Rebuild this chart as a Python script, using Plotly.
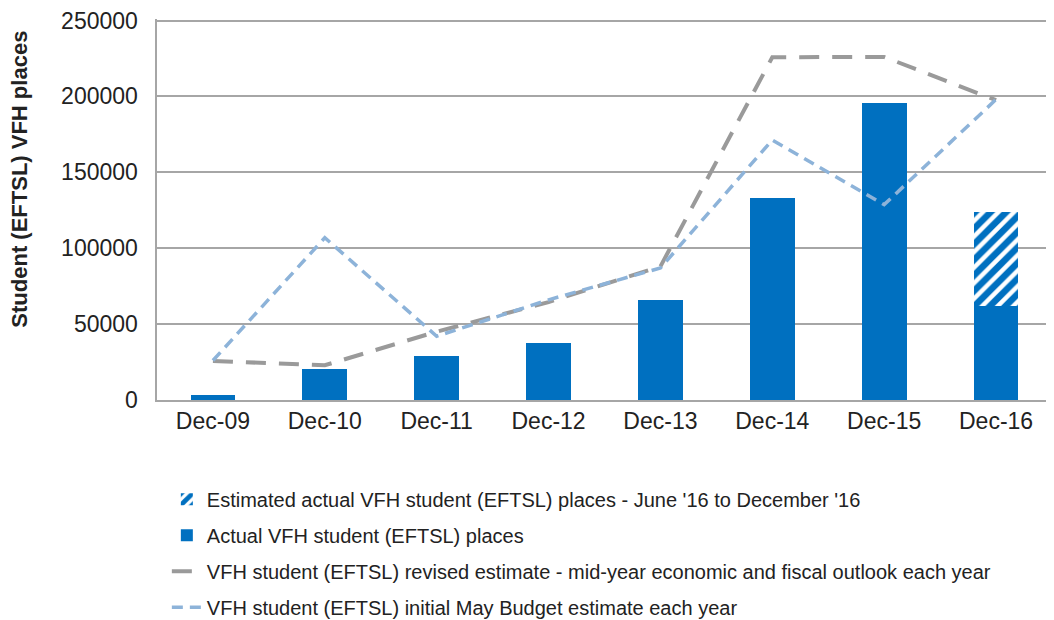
import plotly.graph_objects as go

# data
years = ["Dec-09", "Dec-10", "Dec-11", "Dec-12", "Dec-13", "Dec-14", "Dec-15", "Dec-16"]
actual = [3300, 20100, 28800, 37300, 65900, 132900, 195900, 61700]
estimated_extra = [None, None, None, None, None, None, None, 62000]
revised_estimate = [25700, 22900, 45000, 64500, 88000, 225800, 226000, 197500]
initial_budget = [26000, 106900, 42000, 66000, 87000, 171300, 128700, 198000]

BLUE = "#0070c0"
GREY = "#9a9a9a"
LIGHT_BLUE = "#8db3d9"
FONT = "Liberation Sans, Arial, sans-serif"

fig = go.Figure()

fig.add_trace(go.Bar(
    x=years, y=actual, name="Actual VFH student (EFTSL) places",
    marker=dict(color=BLUE, line=dict(width=0)), width=0.4,
    legendrank=2, legendgroup="a",
))
fig.add_trace(go.Bar(
    x=years, y=estimated_extra,
    name="Estimated actual VFH student (EFTSL) places - June '16 to December '16",
    marker=dict(color="white", line=dict(width=0),
                pattern=dict(shape="/", fgcolor=BLUE, bgcolor="white",
                             size=11, solidity=0.6, fgopacity=1)),
    width=0.4, legendrank=1, legendgroup="b",
))
fig.add_trace(go.Scatter(
    x=years, y=revised_estimate, mode="lines",
    name="VFH student (EFTSL) revised estimate - mid-year economic and fiscal outlook each year",
    line=dict(color=GREY, width=4, dash="20px,13px"),
    legendrank=3, legendgroup="c",
))
fig.add_trace(go.Scatter(
    x=years, y=initial_budget, mode="lines",
    name="VFH student (EFTSL) initial May Budget estimate each year",
    line=dict(color=LIGHT_BLUE, width=3.5, dash="11px,7px"),
    legendrank=4, legendgroup="d",
))

# page body has an 8px margin, so the figure is a bit smaller than the window
fig.update_layout(
    width=1046, height=612,
    margin=dict(l=149, r=2, t=11, b=220, autoexpand=False),
    barmode="stack",
    plot_bgcolor="white", paper_bgcolor="white",
    font=dict(family=FONT, color="#222222", size=23),
    legend=dict(
        orientation="v", x=0.011, xanchor="left", y=-0.209, yanchor="top",
        font=dict(size=20, color="#222222"), tracegroupgap=7,
        itemwidth=30,
    ),
    showlegend=True,
)
fig.update_xaxes(
    showline=True, linecolor="#a6a6a6", linewidth=1.5,
    showgrid=False, ticks="", tickfont=dict(size=23),
)
# range a touch above 250000 so the top gridline is drawn
fig.update_yaxes(
    range=[0, 251000], dtick=50000, tickformat="d",
    showgrid=True, gridcolor="#a6a6a6", gridwidth=1.5,
    showline=True, linecolor="#a6a6a6", linewidth=1.5,
    zeroline=False, tickfont=dict(size=23), ticksuffix="  ",
    ticklabeloverflow="allow",
)

# axis title sits a little above the centre of the plot in the original
fig.add_annotation(
    text="<b>Student (EFTSL) VFH places</b>", textangle=-90,
    xref="paper", yref="paper", x=-0.153, y=0.5785,
    xanchor="center", yanchor="middle", showarrow=False,
    font=dict(size=22, color="#222222"),
)

fig.write_html("out.html")
